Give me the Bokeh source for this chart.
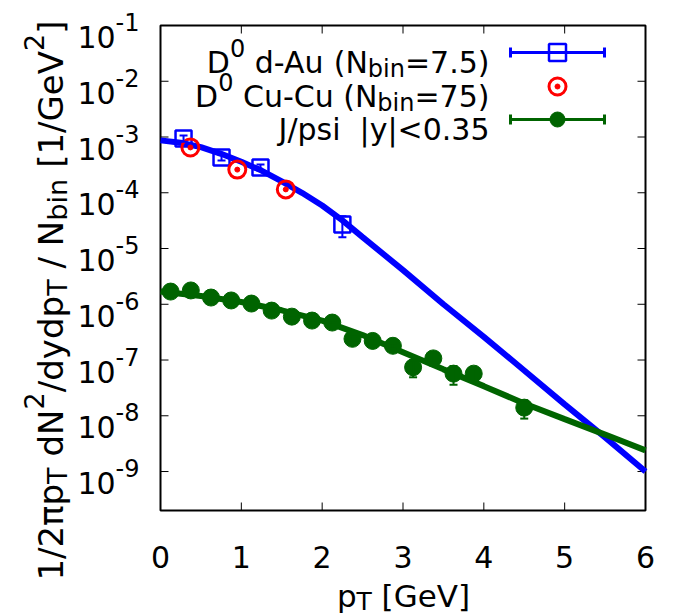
import math
import re
from bokeh.plotting import figure
from bokeh.models import Label, Range1d, Whisker, ColumnDataSource, TeeHead
from bokeh.embed import file_html
from bokeh.resources import INLINE

# ---------------- data ----------------
dau_pt = [0.285, 0.755, 1.237, 2.25]
dau_y = [9.4e-4, 4.3e-4, 2.84e-4, 2.7e-5]
dau_lo = [8.2e-4, 3.8e-4, 2.5e-4, 1.6e-5]
dau_hi = [1.06e-3, 4.8e-4, 3.2e-4, 3.8e-5]

cucu_pt = [0.37, 0.95, 1.55]
cucu_y = [6.5e-4, 2.6e-4, 1.15e-4]

jpsi_pt = [0.125, 0.375, 0.625, 0.875, 1.125, 1.375, 1.625, 1.875, 2.125,
           2.375, 2.625, 2.875, 3.125, 3.375, 3.625, 3.875, 4.5]
jpsi_y = [1.69e-6, 1.77e-6, 1.32e-6, 1.17e-6, 1.03e-6, 7.7e-7, 6.0e-7, 5.1e-7, 4.7e-7,
          2.4e-7, 2.2e-7, 1.8e-7, 7.4e-8, 1.07e-7, 5.7e-8, 5.7e-8, 1.4e-8]
jpsi_lo = [1.6e-6, 1.68e-6, 1.25e-6, 1.1e-6, 0.97e-6, 7.2e-7, 5.6e-7, 4.7e-7, 4.3e-7,
           2.2e-7, 2.0e-7, 1.6e-7, 4.9e-8, 9.0e-8, 3.6e-8, 4.3e-8, 8.9e-9]
jpsi_hi = [1.78e-6, 1.86e-6, 1.39e-6, 1.24e-6, 1.09e-6, 8.2e-7, 6.4e-7, 5.5e-7, 5.1e-7,
           2.6e-7, 2.4e-7, 2.0e-7, 9.9e-8, 1.24e-7, 7.8e-8, 7.1e-8, 1.9e-8]

fit_d_pt = [0.0, 0.25, 0.5, 0.75, 1.0, 1.25, 1.5, 1.75, 2.0, 2.25, 2.5, 3.0, 3.5, 4.0,
            4.5, 5.0, 5.5, 6.0]
fit_d_y = [8.7e-4, 7.9e-4, 6.6e-4, 5.0e-4, 3.6e-4, 2.5e-4, 1.6e-4, 1.0e-4, 5.9e-5, 3.2e-5,
           1.6e-5, 4.1e-6, 1.0e-6, 2.6e-7, 6.5e-8, 1.6e-8, 4.1e-9, 1.0e-9]

fit_j_pt = [0.0, 0.5, 1.0, 1.5, 2.0, 2.5, 3.0, 3.5, 4.0, 4.5, 5.0, 5.5, 6.0]
fit_j_y = [1.7e-6, 1.41e-6, 1.10e-6, 7.8e-7, 5.1e-7, 2.8e-7, 1.38e-7, 6.8e-8, 3.4e-8,
           1.66e-8, 8.7e-9, 4.6e-9, 2.4e-9]

x_ticks = [0, 1, 2, 3, 4, 5, 6]
x_tick_labels = ["0", "1", "2", "3", "4", "5", "6"]
y_ticks = [1e-9, 1e-8, 1e-7, 1e-6, 1e-5, 1e-4, 1e-3, 1e-2, 1e-1]
y_tick_exps = ["-9", "-8", "-7", "-6", "-5", "-4", "-3", "-2", "-1"]

legend_rows = [
    [("D", "n"), ("0", "sup"), (" d-Au (N", "n"), ("bin", "sub"), ("=7.5)", "n")],
    [("D", "n"), ("0", "sup"), (" Cu-Cu (N", "n"), ("bin", "sub"), ("=75)", "n")],
    [("J/psi  |y|<0.35", "n")],
]
ylabel_segs = [("1/2πp", "n"), ("T", "sub"), (" dN", "n"), ("2", "sup"), ("/dydp", "n"),
               ("T", "sub"), (" / N", "n"), ("bin", "sub"), (" [1/GeV", "n"), ("2", "sup"), ("]", "n")]
xlabel_segs = [("p", "n"), ("T", "sub"), (" [GeV]", "n")]

BLUE = "#0000ff"
RED = "#ff0000"
GREEN = "#006400"
FONT = "DejaVu Sans"

XMIN, XMAX = 0.0, 6.0
YMIN, YMAX = 2e-10, 1e-1
W_, H_ = 684, 615
FL, FR, FT, FB = 160, 645, 25, 510   # plot box in canvas pixels


def DX(px):
    return XMIN + (px - FL) / (FR - FL) * (XMAX - XMIN)


def DY(py):
    a, b = math.log10(YMAX), math.log10(YMIN)
    return 10 ** (a - (py - FT) / (FB - FT) * (a - b))


def PY(v):
    a, b = math.log10(YMAX), math.log10(YMIN)
    return FT + (a - math.log10(v)) / (a - b) * (FB - FT)


WID = {' ': 0.3179, '(': 0.3901, ')': 0.3901, '-': 0.3608, '.': 0.3179, '/': 0.3369,
       '<': 0.8379, '=': 0.8379, '[': 0.3901, ']': 0.3901, '|': 0.3369,
       'A': 0.6841, 'C': 0.6982, 'D': 0.7700, 'G': 0.7759, 'J': 0.2949, 'N': 0.7480,
       'T': 0.6108, 'V': 0.6841, 'b': 0.6348, 'd': 0.6348, 'e': 0.6152, 'i': 0.2778,
       'n': 0.6338, 'p': 0.6348, 's': 0.5210, 'u': 0.6338, 'y': 0.5918, 'π': 0.60}
for _c in "0123456789":
    WID[_c] = 0.6362


def tw(s, size):
    return sum(WID.get(c, 0.6) for c in s) * size


# the canvas is the drawing area; the plot box is drawn inside it
p = figure(width=W_, height=H_, x_range=Range1d(DX(0), DX(W_)), y_range=Range1d(DY(H_), DY(0)),
           y_axis_type="log", output_backend="svg", toolbar_location=None, title=None,
           min_border_left=0, min_border_right=0, min_border_top=0, min_border_bottom=0)
p.grid.visible = False
p.xaxis.visible = False
p.yaxis.visible = False
p.outline_line_color = None
p.background_fill_color = "white"
p.border_fill_color = "white"

# plot box
p.quad(left=[XMIN], right=[XMAX], bottom=[YMIN], top=[YMAX], fill_color=None,
       line_color="black", line_width=2)

# inward ticks
TL = 8
n = len(y_ticks)
p.segment(x0=[XMIN] * n, y0=y_ticks, x1=[DX(FL + TL)] * n, y1=y_ticks, line_color="black", line_width=1)
p.segment(x0=[XMAX] * n, y0=y_ticks, x1=[DX(FR - TL)] * n, y1=y_ticks, line_color="black", line_width=1)
m = len(x_ticks)
p.segment(x0=x_ticks, y0=[YMAX] * m, x1=x_ticks, y1=[DY(FT + TL)] * m, line_color="black", line_width=1)
p.segment(x0=x_ticks, y0=[YMIN] * m, x1=x_ticks, y1=[DY(FB - TL)] * m, line_color="black", line_width=1)

# fit curves
p.line(fit_d_pt, fit_d_y, line_color=BLUE, line_width=6)
p.line(fit_j_pt, fit_j_y, line_color=GREEN, line_width=6)


def whisk(xs, lo, hi, color):
    src = ColumnDataSource(dict(x=xs, lo=lo, hi=hi))
    w = Whisker(source=src, base="x", lower="lo", upper="hi", dimension="height",
                line_color=color, line_width=2,
                upper_head=TeeHead(size=8, line_color=color, line_width=2),
                lower_head=TeeHead(size=8, line_color=color, line_width=2))
    w.level = "glyph"
    p.add_layout(w)


whisk(jpsi_pt, jpsi_lo, jpsi_hi, GREEN)
whisk(dau_pt, dau_lo, dau_hi, BLUE)

p.scatter(jpsi_pt, jpsi_y, marker="circle", size=17, fill_color=GREEN, line_color=GREEN)
p.scatter(dau_pt, dau_y, marker="square", size=16, fill_color=None, line_color=BLUE, line_width=2.5)
p.scatter(cucu_pt, cucu_y, marker="circle", size=17, fill_color=None, line_color=RED, line_width=3)
p.scatter(cucu_pt, cucu_y, marker="circle", size=5, fill_color=RED, line_color=RED)


def rich(segs, x0, y0, size, color="black", align="left", rotated=False):
    widths = []
    for t, k in segs:
        fs = size * 0.8 if k != "n" else size
        widths.append(tw(t, fs))
    total = sum(widths)
    pos = {"left": 0.0, "right": -total, "center": -total / 2}[align]
    for (t, k), w in zip(segs, widths):
        fs = size * 0.8 if k != "n" else size
        off = -0.5 * size if k == "sup" else (0.2 * size if k == "sub" else 0.0)
        for mm in re.finditer(r"\S+", t):
            word = mm.group(0)
            d = pos + tw(t[:mm.start()], fs)
            if rotated:
                px, py = x0 + off, y0 - d
            else:
                px, py = x0 + d, y0 + off
            p.add_layout(Label(x=DX(px), y=DY(py), text=word, text_font=FONT,
                               text_font_size=f"{round(fs)}px", text_color=color,
                               text_align="left", text_baseline="alphabetic",
                               angle=(math.pi / 2 if rotated else 0.0)))
        pos += w


# tick labels
for v, t in zip(x_ticks, x_tick_labels):
    p.add_layout(Label(x=v, y=DY(556), text=t, text_font=FONT, text_font_size="30px",
                       text_color="black", text_align="center", text_baseline="alphabetic"))
for v, e in zip(y_ticks, y_tick_exps):
    rich([("10", "n"), (e, "sup")], 139, PY(v) + 11.5, 30, align="right")

# axis titles
rich(xlabel_segs, 403, 595, 31, align="center")
rich(ylabel_segs, 50, 300, 34, align="center", rotated=True)

# legend
row_text_base = [62, 96, 129]
row_sample_y = [52, 86, 119]
for segs, yb in zip(legend_rows, row_text_base):
    rich(segs, 489, yb, 30, align="right")

LX0, LX1, LXM = 510, 604, 557
for ys, col, line in zip(row_sample_y, [BLUE, RED, GREEN], [True, False, True]):
    if line:
        src = ColumnDataSource(dict(y=[DY(ys)], lo=[DX(LX0)], hi=[DX(LX1)]))
        w = Whisker(source=src, base="y", lower="lo", upper="hi", dimension="width",
                    line_color=col, line_width=3,
                    upper_head=TeeHead(size=10, line_color=col, line_width=3),
                    lower_head=TeeHead(size=10, line_color=col, line_width=3))
        w.level = "glyph"
        p.add_layout(w)
p.scatter([DX(LXM)], [DY(row_sample_y[0])], marker="square", size=17, fill_color="white",
          line_color=BLUE, line_width=2.5)
p.scatter([DX(LXM)], [DY(row_sample_y[1])], marker="circle", size=17, fill_color=None,
          line_color=RED, line_width=3)
p.scatter([DX(LXM)], [DY(row_sample_y[1])], marker="circle", size=5, fill_color=RED,
          line_color=RED)
p.scatter([DX(LXM)], [DY(row_sample_y[2])], marker="circle", size=15, fill_color=GREEN,
          line_color=GREEN)

open("out.html", "w").write(file_html(p, INLINE))
